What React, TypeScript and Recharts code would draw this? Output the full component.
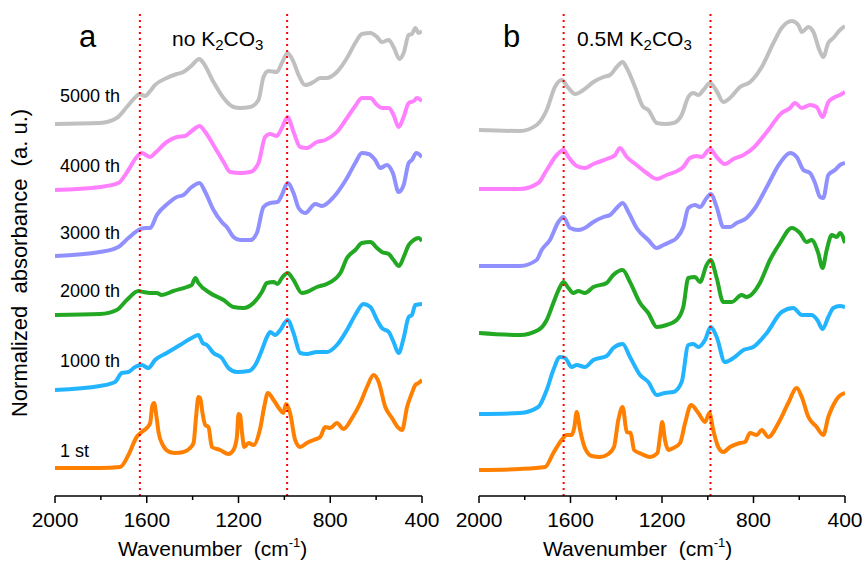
import { Line, LineChart, ReferenceLine, XAxis, YAxis } from 'recharts';

type Pt = [number, number];

// wavenumber (cm-1), normalized absorbance (offset, a.u.)
const wnTicks = [2000, 1800, 1600, 1400, 1200, 1000, 800, 600, 400];
const majorTicks = [2000, 1600, 1200, 800, 400];
const markerWn = [1630, 988];
const cycleLabels = ['5000 th', '4000 th', '3000 th', '2000 th', '1000 th', '1 st'];
const labelBaselines = [102, 172, 239, 297, 367, 457];
const seriesColors = ['#c0c0c0', '#ff80ff', '#9090ff', '#22a822', '#22b4ff', '#ff8000'];

const aGray: Pt[] = [
  [2000, 3.72], [1804, 3.73], [1731, 3.78], [1687, 3.89], [1644, 4.0], [1631, 4.02], [1607, 4.0],
  [1585, 4.05], [1564, 4.11], [1513, 4.18], [1469, 4.22], [1440, 4.24], [1411, 4.29], [1370, 4.37],
  [1353, 4.33], [1309, 4.14], [1265, 3.98], [1222, 3.89], [1193, 3.88], [1149, 3.89], [1113, 3.96],
  [1091, 4.19], [1069, 4.25], [1033, 4.24], [1011, 4.33], [986, 4.43], [960, 4.34], [938, 4.21],
  [909, 4.11], [873, 4.14], [844, 4.18], [815, 4.18], [771, 4.24], [727, 4.38], [691, 4.53],
  [662, 4.62], [625, 4.63], [596, 4.59], [575, 4.54], [545, 4.56], [524, 4.49], [498, 4.37],
  [480, 4.43], [458, 4.61], [444, 4.62], [429, 4.68], [415, 4.63], [400, 4.65],
];
const aPink: Pt[] = [
  [2000, 3.06], [1804, 3.09], [1724, 3.13], [1680, 3.26], [1644, 3.39], [1622, 3.43], [1585, 3.39],
  [1564, 3.43], [1513, 3.54], [1469, 3.59], [1433, 3.6], [1404, 3.65], [1370, 3.7], [1345, 3.64],
  [1302, 3.48], [1265, 3.34], [1236, 3.24], [1193, 3.23], [1149, 3.24], [1113, 3.33], [1084, 3.59],
  [1062, 3.62], [1033, 3.6], [1011, 3.68], [986, 3.79], [960, 3.64], [931, 3.49], [902, 3.48],
  [858, 3.54], [822, 3.56], [771, 3.64], [727, 3.78], [691, 3.9], [662, 3.98], [625, 3.98],
  [596, 3.91], [575, 3.88], [545, 3.88], [524, 3.81], [502, 3.69], [480, 3.79], [458, 3.93],
  [436, 3.95], [422, 3.98], [400, 3.95],
];
const aViolet: Pt[] = [
  [2000, 2.4], [1804, 2.44], [1724, 2.49], [1680, 2.58], [1636, 2.66], [1607, 2.68], [1585, 2.68],
  [1556, 2.81], [1505, 2.93], [1469, 2.99], [1440, 3.01], [1404, 3.09], [1370, 3.13], [1345, 3.04],
  [1309, 2.86], [1273, 2.74], [1251, 2.69], [1222, 2.59], [1193, 2.56], [1149, 2.56], [1120, 2.63],
  [1091, 2.89], [1062, 2.93], [1030, 2.94], [1011, 3.01], [986, 3.13], [960, 3.03], [938, 2.88],
  [909, 2.83], [865, 2.92], [836, 2.9], [785, 2.99], [727, 3.18], [691, 3.33], [662, 3.43],
  [633, 3.42], [604, 3.36], [582, 3.28], [553, 3.31], [527, 3.23], [502, 3.04], [480, 3.11],
  [458, 3.33], [444, 3.36], [425, 3.43], [400, 3.39],
];
const aGreen: Pt[] = [
  [2000, 1.81], [1804, 1.82], [1731, 1.86], [1687, 1.96], [1636, 2.05], [1615, 2.04], [1585, 2.03],
  [1556, 2.03], [1535, 2.01], [1484, 2.05], [1425, 2.09], [1404, 2.11], [1388, 2.18], [1375, 2.13],
  [1324, 2.03], [1265, 1.96], [1222, 1.89], [1178, 1.88], [1135, 1.93], [1098, 2.04], [1076, 2.13],
  [1047, 2.14], [1030, 2.12], [1011, 2.18], [986, 2.23], [960, 2.16], [924, 2.03], [902, 2.04],
  [858, 2.09], [815, 2.12], [756, 2.23], [727, 2.38], [691, 2.46], [662, 2.53], [625, 2.54],
  [596, 2.48], [575, 2.44], [545, 2.42], [524, 2.36], [500, 2.3], [480, 2.39], [458, 2.51],
  [436, 2.56], [415, 2.58], [400, 2.55],
];
const aSky: Pt[] = [
  [2000, 1.06], [1804, 1.1], [1738, 1.14], [1709, 1.23], [1680, 1.24], [1651, 1.29], [1622, 1.31],
  [1593, 1.28], [1564, 1.36], [1513, 1.43], [1455, 1.51], [1404, 1.58], [1375, 1.61], [1356, 1.53],
  [1338, 1.51], [1309, 1.43], [1273, 1.38], [1244, 1.28], [1207, 1.24], [1156, 1.25], [1127, 1.31],
  [1098, 1.46], [1076, 1.59], [1062, 1.64], [1040, 1.61], [1018, 1.66], [986, 1.76], [960, 1.63],
  [931, 1.43], [902, 1.42], [858, 1.44], [815, 1.44], [771, 1.51], [727, 1.66], [691, 1.81],
  [655, 1.92], [625, 1.89], [596, 1.76], [575, 1.68], [545, 1.64], [524, 1.54], [502, 1.43],
  [480, 1.58], [458, 1.79], [444, 1.81], [429, 1.91], [400, 1.92],
];
const aOrange: Pt[] = [
  [2000, 0.28], [1804, 0.28], [1716, 0.29], [1680, 0.41], [1644, 0.59], [1622, 0.64], [1600, 0.68],
  [1585, 0.73], [1576, 0.9], [1568, 0.93], [1558, 0.8], [1548, 0.63], [1530, 0.51], [1500, 0.44],
  [1476, 0.43], [1440, 0.44], [1411, 0.48], [1396, 0.53], [1385, 0.79], [1375, 0.99], [1367, 0.98],
  [1357, 0.83], [1345, 0.71], [1331, 0.69], [1316, 0.49], [1280, 0.46], [1244, 0.42], [1222, 0.46],
  [1207, 0.59], [1200, 0.82], [1193, 0.81], [1185, 0.64], [1175, 0.49], [1156, 0.53], [1135, 0.51],
  [1105, 0.68], [1088, 0.89], [1072, 1.03], [1047, 0.96], [1018, 0.86], [1004, 0.83], [993, 0.92],
  [975, 0.83], [953, 0.56], [931, 0.49], [902, 0.53], [873, 0.56], [844, 0.59], [822, 0.69],
  [800, 0.68], [771, 0.73], [742, 0.67], [705, 0.78], [669, 0.93], [640, 1.09], [611, 1.21],
  [589, 1.14], [560, 0.89], [531, 0.78], [502, 0.68], [487, 0.66], [465, 0.89], [444, 1.03],
  [429, 1.11], [415, 1.13], [400, 1.16],
];

const bGray: Pt[] = [
  [2000, 3.66], [1821, 3.65], [1748, 3.71], [1704, 3.86], [1668, 4.09], [1639, 4.16], [1609, 4.08],
  [1580, 4.02], [1544, 4.06], [1500, 4.14], [1456, 4.19], [1427, 4.21], [1398, 4.29], [1372, 4.34],
  [1354, 4.28], [1318, 4.09], [1282, 3.89], [1260, 3.86], [1223, 3.73], [1187, 3.72], [1150, 3.73],
  [1114, 3.81], [1085, 3.99], [1063, 4.03], [1041, 4.01], [1019, 4.06], [990, 4.13], [961, 4.05],
  [932, 3.94], [903, 3.98], [859, 4.09], [815, 4.14], [764, 4.29], [713, 4.53], [677, 4.68],
  [633, 4.75], [604, 4.71], [589, 4.64], [560, 4.69], [538, 4.64], [512, 4.46], [495, 4.39],
  [473, 4.53], [451, 4.58], [422, 4.66], [400, 4.7],
];
const bPink: Pt[] = [
  [2000, 3.07], [1821, 3.07], [1741, 3.13], [1704, 3.26], [1660, 3.41], [1631, 3.46], [1609, 3.39],
  [1573, 3.3], [1537, 3.28], [1500, 3.32], [1442, 3.37], [1405, 3.41], [1384, 3.48], [1354, 3.39],
  [1311, 3.31], [1267, 3.23], [1223, 3.17], [1180, 3.21], [1143, 3.24], [1107, 3.29], [1078, 3.38],
  [1048, 3.4], [1027, 3.39], [990, 3.47], [961, 3.39], [925, 3.32], [888, 3.37], [844, 3.41],
  [801, 3.48], [742, 3.64], [677, 3.83], [640, 3.88], [619, 3.93], [589, 3.88], [553, 3.91],
  [524, 3.89], [498, 3.79], [473, 3.94], [451, 3.98], [422, 4.01], [400, 4.04],
];
const bViolet: Pt[] = [
  [2000, 2.3], [1821, 2.3], [1748, 2.36], [1726, 2.46], [1690, 2.56], [1653, 2.74], [1631, 2.79],
  [1602, 2.68], [1566, 2.66], [1537, 2.68], [1500, 2.74], [1456, 2.79], [1427, 2.81], [1398, 2.88],
  [1372, 2.93], [1347, 2.84], [1311, 2.68], [1260, 2.56], [1223, 2.48], [1194, 2.51], [1165, 2.54],
  [1136, 2.58], [1107, 2.69], [1085, 2.88], [1056, 2.91], [1034, 2.89], [1005, 2.98], [987, 3.02],
  [961, 2.89], [932, 2.69], [903, 2.69], [874, 2.73], [830, 2.78], [793, 2.88], [742, 3.09],
  [684, 3.33], [640, 3.43], [611, 3.39], [582, 3.26], [553, 3.23], [531, 3.13], [509, 2.99],
  [495, 2.98], [473, 3.21], [444, 3.26], [422, 3.31], [400, 3.33],
];
const bGreen: Pt[] = [
  [2000, 1.63], [1821, 1.61], [1741, 1.66], [1704, 1.76], [1675, 1.93], [1646, 2.09], [1631, 2.14],
  [1609, 2.08], [1588, 2.03], [1566, 2.05], [1537, 2.03], [1500, 2.09], [1442, 2.13], [1413, 2.21],
  [1372, 2.26], [1340, 2.14], [1296, 1.93], [1260, 1.83], [1223, 1.69], [1180, 1.71], [1136, 1.76],
  [1107, 1.89], [1085, 2.18], [1056, 2.19], [1034, 2.14], [1005, 2.31], [987, 2.36], [961, 2.18],
  [932, 1.94], [895, 1.94], [852, 2.01], [830, 1.99], [772, 2.13], [728, 2.36], [684, 2.53],
  [633, 2.68], [597, 2.63], [568, 2.54], [546, 2.56], [517, 2.43], [498, 2.28], [480, 2.46],
  [458, 2.61], [436, 2.59], [422, 2.63], [400, 2.53],
];
const bSky: Pt[] = [
  [2000, 0.82], [1821, 0.83], [1741, 0.89], [1704, 1.06], [1675, 1.26], [1646, 1.39], [1624, 1.38],
  [1595, 1.29], [1573, 1.31], [1537, 1.29], [1500, 1.36], [1442, 1.4], [1413, 1.48], [1372, 1.52],
  [1340, 1.39], [1296, 1.21], [1260, 1.14], [1223, 1.01], [1187, 1.03], [1150, 1.04], [1114, 1.14],
  [1085, 1.51], [1063, 1.52], [1041, 1.49], [1012, 1.56], [987, 1.69], [961, 1.59], [925, 1.34],
  [888, 1.38], [844, 1.46], [801, 1.49], [742, 1.63], [677, 1.84], [626, 1.88], [589, 1.81],
  [546, 1.81], [521, 1.76], [498, 1.67], [473, 1.79], [451, 1.88], [422, 1.9], [400, 1.89],
];
const bOrange: Pt[] = [
  [2000, 0.26], [1821, 0.27], [1711, 0.29], [1675, 0.43], [1639, 0.56], [1617, 0.61], [1595, 0.61],
  [1583, 0.69], [1573, 0.84], [1558, 0.66], [1537, 0.48], [1507, 0.4], [1471, 0.39], [1435, 0.42],
  [1410, 0.49], [1391, 0.76], [1372, 0.89], [1354, 0.64], [1337, 0.63], [1322, 0.46], [1289, 0.42],
  [1252, 0.39], [1220, 0.43], [1209, 0.59], [1199, 0.74], [1187, 0.56], [1172, 0.46], [1150, 0.48],
  [1121, 0.53], [1099, 0.73], [1073, 0.91], [1041, 0.83], [1012, 0.74], [993, 0.83], [976, 0.66],
  [954, 0.49], [932, 0.44], [903, 0.49], [859, 0.53], [837, 0.54], [815, 0.63], [786, 0.61],
  [764, 0.66], [735, 0.59], [691, 0.73], [648, 0.93], [611, 1.08], [589, 0.99], [560, 0.79],
  [524, 0.69], [495, 0.61], [473, 0.79], [451, 0.91], [429, 0.99], [400, 1.03],
];

const panelA = [aGray, aPink, aViolet, aGreen, aSky, aOrange];
const panelB = [bGray, bPink, bViolet, bGreen, bSky, bOrange];

const FONT = '"Liberation Sans", Arial, Helvetica, sans-serif';
const Y_MAX = 4.83;
const yTicks = Array.from({ length: 31 }, (_, i) => +(i * 0.161).toFixed(3));
const TICK_SIZE = 7;
const TICK_MARGIN = 2;
const axisStyle = { stroke: '#000', strokeWidth: 1.5 };

function BottomTick(props: any) {
  const { x, y, payload } = props;
  const axisY = y - TICK_SIZE - TICK_MARGIN;
  const major = majorTicks.includes(payload.value);
  return (
    <g>
      <line x1={x} x2={x} y1={axisY} y2={axisY + (major ? 7 : 4)} stroke="#000" strokeWidth={1.5} />
      {major && (
        <text x={x} y={axisY + 31} textAnchor="middle" fontSize={21} fontFamily={FONT} fill="#000">
          {payload.value}
        </text>
      )}
    </g>
  );
}

function Panel({ series, left, width, ml, mr }: { series: Pt[][]; left: number; width: number; ml: number; mr: number }) {
  return (
    <div style={{ position: 'absolute', left, top: 0 }}>
      <LineChart width={width} height={565} margin={{ top: 13, right: mr, bottom: 29, left: ml }}>
        <XAxis
          xAxisId="b"
          type="number"
          dataKey="wn"
          domain={[400, 2000]}
          reversed
          ticks={wnTicks}
          interval={0}
          height={40}
          tickSize={TICK_SIZE}
          tickMargin={TICK_MARGIN}
          tickLine={false}
          axisLine={axisStyle}
          tick={<BottomTick />}
          allowDataOverflow
        />
        <XAxis
          xAxisId="t"
          orientation="top"
          type="number"
          dataKey="wn"
          domain={[400, 2000]}
          reversed
          ticks={wnTicks}
          interval={0}
          height={0}
          mirror
          tickSize={3}
          tick={false}
          tickLine={{ stroke: '#000', strokeWidth: 1.2 }}
          axisLine={axisStyle}
        />
        <YAxis
          yAxisId="l"
          type="number"
          domain={[0, Y_MAX]}
          ticks={yTicks}
          interval={0}
          width={0}
          mirror
          tickSize={3}
          tick={false}
          tickLine={{ stroke: '#000', strokeWidth: 1 }}
          axisLine={axisStyle}
          allowDataOverflow
        />
        <YAxis
          yAxisId="r"
          orientation="right"
          type="number"
          domain={[0, Y_MAX]}
          ticks={yTicks}
          interval={0}
          width={0}
          mirror
          tickSize={3}
          tick={false}
          tickLine={{ stroke: '#000', strokeWidth: 1 }}
          axisLine={axisStyle}
        />
        {series.map((s, i) => (
          <Line
            key={i}
            xAxisId="b"
            yAxisId="l"
            data={s.map(([wn, v]) => ({ wn, v }))}
            dataKey="v"
            type="monotone"
            stroke={seriesColors[i]}
            strokeWidth={4}
            strokeLinejoin="round"
            dot={false}
            activeDot={false}
            isAnimationActive={false}
          />
        ))}
        {markerWn.map((m) => (
          <ReferenceLine key={m} x={m} xAxisId="b" yAxisId="l" stroke="#ff0000" strokeWidth={2} strokeDasharray="2 4" />
        ))}
      </LineChart>
    </div>
  );
}

export default function App() {
  const sub = { fontSize: 15 };
  return (
    <div style={{ position: 'absolute', left: 0, top: 0, width: 867, height: 565, background: '#fff' }}>
      <Panel series={panelA} left={0} width={440} ml={55} mr={18} />
      <Panel series={panelB} left={440} width={427} ml={39} mr={22} />
      <svg
        width={867}
        height={565}
        style={{ position: 'absolute', left: 0, top: 0, pointerEvents: 'none' }}
        fontFamily={FONT}
        fill="#000"
      >
        <text x={79} y={47} fontSize={31}>a</text>
        <text x={503} y={47} fontSize={31}>b</text>
        <text x={172} y={46} fontSize={21}>
          no K<tspan {...sub} dy={4}>2</tspan>
          <tspan dy={-4}>CO</tspan>
          <tspan {...sub} dy={4}>3</tspan>
        </text>
        <text x={577} y={46} fontSize={21}>
          0.5M K<tspan {...sub} dy={4}>2</tspan>
          <tspan dy={-4}>CO</tspan>
          <tspan {...sub} dy={4}>3</tspan>
        </text>
        {cycleLabels.map((c, i) => (
          <text key={c} x={60} y={labelBaselines[i]} fontSize={18}>{c}</text>
        ))}
        {[118, 543].map((x) => (
          <text key={x} x={x} y={556} fontSize={21} style={{ whiteSpace: 'pre' }}>
            {'Wavenumber  (cm'}
            <tspan fontSize={13} dy={-9}>-1</tspan>
            <tspan dy={9}>)</tspan>
          </text>
        ))}
        <text transform="translate(27,263) rotate(-90)" textAnchor="middle" fontSize={22} style={{ whiteSpace: 'pre' }}>
          {'Normalized  absorbance  (a. u.)'}
        </text>
      </svg>
    </div>
  );
}
